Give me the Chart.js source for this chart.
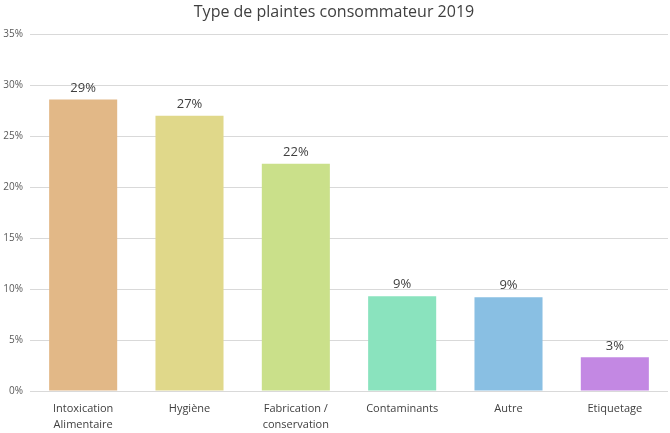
<!DOCTYPE html>
<html>
<head>
<meta charset="utf-8">
<script src="https://cdn.jsdelivr.net/npm/chart.js@4"></script>
<style>
  html, body { margin: 0; padding: 0; background: #fff; }
  #wrap { width: 670px; height: 433px; }
</style>
</head>
<body>
<div id="wrap"><canvas id="chart" width="670" height="433"></canvas></div>
<script>
const categories = [
    ['Intoxication', 'Alimentaire'],
    'Hygiène',
    ['Fabrication /', 'conservation'],
    'Contaminants',
    'Autre',
    'Etiquetage'
];
const shares = [0.286, 0.270, 0.223, 0.093, 0.092, 0.033];
const barColors = ['#E2B887', '#E0D88A', '#CAE08A', '#8AE3BE', '#89BFE3', '#C388E3'];
const yTicks = [0, 0.05, 0.10, 0.15, 0.20, 0.25, 0.30, 0.35];

const pct = v => Math.round(v * 100) + '%';

// small inline label plugin, draws the value above each bar
const valueLabels = {
    id: 'valueLabels',
    afterDatasetsDraw(chart) {
        const c = chart.ctx;
        const meta = chart.getDatasetMeta(0);
        c.save();
        c.font = '13px "Open Sans", sans-serif';
        c.fillStyle = '#404040';
        c.textAlign = 'center';
        c.textBaseline = 'bottom';
        meta.data.forEach((bar, i) => {
            c.fillText(pct(shares[i]), bar.x, bar.y - 5);
        });
        c.restore();
    }
};

new Chart(document.getElementById('chart'), {
    type: 'bar',
    data: {
        labels: categories,
        datasets: [{
            data: shares,
            backgroundColor: barColors,
            borderWidth: 0,
            categoryPercentage: 1,
            barPercentage: 0.64
        }]
    },
    options: {
        responsive: false,
        animation: false,
        layout: { padding: { left: 0, right: 2, top: 0, bottom: 0 } },
        plugins: {
            legend: { display: false },
            tooltip: { enabled: false },
            title: {
                display: true,
                text: 'Type de plaintes consommateur 2019',
                color: '#404040',
                font: { family: '"Open Sans", sans-serif', size: 16, weight: 'normal' },
                padding: { top: 3, bottom: 12 }
            }
        },
        scales: {
            x: {
                afterFit: axis => { axis.height = 42; },
                grid: { display: false },
                border: { display: false },
                ticks: {
                    color: '#404040',
                    font: { family: '"Open Sans", sans-serif', size: 11, lineHeight: 1.45 },
                    maxRotation: 0,
                    autoSkip: false,
                    padding: 2
                }
            },
            y: {
                min: 0,
                max: 0.35,
                afterBuildTicks: axis => { axis.ticks = yTicks.map(v => ({ value: v })); },
                afterFit: axis => { axis.width = 30; },
                grid: { color: '#D9D9D9', drawTicks: false },
                border: { display: false },
                ticks: {
                    color: '#595959',
                    font: { family: '"Open Sans", sans-serif', size: 10 },
                    padding: 7,
                    callback: v => pct(v)
                }
            }
        }
    },
    plugins: [valueLabels]
});
</script>
</body>
</html>
